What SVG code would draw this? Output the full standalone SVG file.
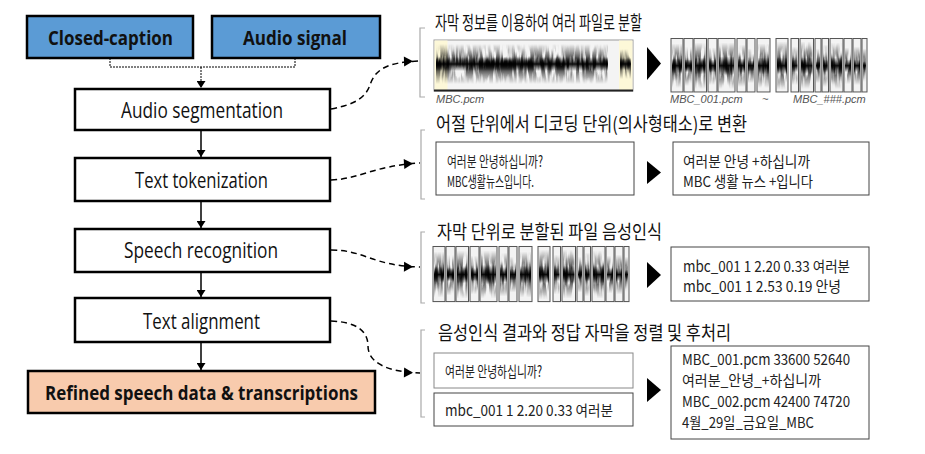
<svg xmlns="http://www.w3.org/2000/svg" xmlns:xlink="http://www.w3.org/1999/xlink" width="925" height="454" viewBox="0 0 925 454">
<style>
.node{stroke:#000;stroke-width:2.5}
.nt{font-family:"Open Sans","Noto Sans",sans-serif;font-size:22px;fill:#111}
.bt{font-family:"Open Sans","Noto Sans",sans-serif;font-size:20px;font-weight:bold;fill:#111}
.kt{font-family:"Noto Sans CJK KR",sans-serif;font-size:19px;fill:#111}
.kb{font-family:"Noto Sans CJK KR",sans-serif;font-size:15px;fill:#222}
.fn{font-family:"Liberation Sans",sans-serif;font-size:11px;font-style:italic;fill:#555}
.tb{fill:#fff;stroke:#444;stroke-width:1}
.br{fill:none;stroke:#aaa;stroke-width:1.2}
.dash{fill:none;stroke:#000;stroke-width:1.5;stroke-dasharray:6 4}
.flow{fill:none;stroke:#000;stroke-width:1.5}
.dot{fill:none;stroke:#000;stroke-width:1;stroke-dasharray:2 1}
.seg{fill:#f3f3f3;stroke:#555;stroke-width:1}
</style>
<defs>
<marker id="ah" markerWidth="8" markerHeight="9" refX="7" refY="4.5" orient="auto" markerUnits="userSpaceOnUse"><path d="M0,0 L7,4.5 L0,9 Z" fill="#000"/></marker>
<marker id="ahd" markerWidth="10" markerHeight="10" refX="16" refY="5" orient="auto" markerUnits="userSpaceOnUse" overflow="visible"><path d="M0,0 L9,5 L0,10 Z" fill="#000"/></marker>
<linearGradient id="env" x1="0" y1="0" x2="0" y2="1">
<stop offset="0" stop-color="#000" stop-opacity="0"/>
<stop offset="0.25" stop-color="#000" stop-opacity="0.45"/>
<stop offset="0.5" stop-color="#000" stop-opacity="1"/>
<stop offset="0.75" stop-color="#000" stop-opacity="0.45"/>
<stop offset="1" stop-color="#000" stop-opacity="0"/>
</linearGradient>
<linearGradient id="core" x1="0" y1="0" x2="0" y2="1">
<stop offset="0" stop-color="#000" stop-opacity="0"/>
<stop offset="0.5" stop-color="#000" stop-opacity="0.95"/>
<stop offset="1" stop-color="#000" stop-opacity="0"/>
</linearGradient>
<filter id="wv" filterUnits="userSpaceOnUse" x="-50" y="-50" width="1000" height="600">
<feTurbulence type="fractalNoise" baseFrequency="0.3 0.05" numOctaves="2" seed="7" result="t"/>
<feColorMatrix in="t" type="matrix" values="0 0 0 0 0  0 0 0 0 0  0 0 0 0 0  4 0 0 0 -1.3" result="a"/>
<feComposite in="SourceGraphic" in2="a" operator="in"/>
</filter>
<g id="segs">
<g>
<rect class="seg" x="0" y="0" width="12" height="54"/>
<rect class="seg" x="13" y="0" width="9" height="54"/>
<rect class="seg" x="23" y="0" width="12.5" height="54"/>
<rect class="seg" x="37" y="0" width="9" height="54"/>
<rect class="seg" x="47" y="0" width="17" height="54"/>
<rect class="seg" x="66" y="0" width="9" height="54"/>
<rect class="seg" x="76" y="0" width="8" height="54"/>
<rect class="seg" x="86" y="0" width="13" height="54"/>
<rect class="seg" x="105" y="0" width="12" height="54"/>
<rect class="seg" x="120" y="0" width="7.5" height="54"/>
<rect class="seg" x="129" y="0" width="13.5" height="54"/>
<rect class="seg" x="144" y="0" width="6" height="54"/>
<rect class="seg" x="151" y="0" width="6.5" height="54"/>
<rect class="seg" x="159" y="0" width="13" height="54"/>
<rect class="seg" x="173" y="0" width="8" height="54"/>
<rect class="seg" x="182" y="0" width="8" height="54"/>
<rect class="seg" x="191" y="0" width="5" height="54"/>
</g>
<g filter="url(#wv)" fill="url(#env)">
<rect x="1" y="5" width="10" height="45"/>
<rect x="14" y="8" width="7" height="40"/>
<rect x="24" y="4" width="10.5" height="47"/>
<rect x="38" y="9" width="7" height="38"/>
<rect x="48" y="4" width="15" height="47"/>
<rect x="67" y="6" width="7" height="43"/>
<rect x="77" y="10" width="6" height="35"/>
<rect x="87" y="5" width="11" height="45"/>
<rect x="106" y="3" width="10" height="49"/>
<rect x="121" y="8" width="5.5" height="39"/>
<rect x="130" y="3" width="11.5" height="48"/>
<rect x="145" y="10" width="4" height="35"/>
<rect x="152" y="6" width="4.5" height="43"/>
<rect x="160" y="4" width="11" height="47"/>
<rect x="174" y="9" width="6" height="37"/>
<rect x="183" y="8" width="6" height="39"/>
<rect x="192" y="10" width="3" height="35"/>
</g>
<g fill="url(#core)">
<rect x="1" y="20" width="10" height="15"/>
<rect x="14" y="21" width="7" height="13"/>
<rect x="24" y="19" width="10.5" height="17"/>
<rect x="38" y="21" width="7" height="13"/>
<rect x="48" y="18" width="15" height="19"/>
<rect x="67" y="20" width="7" height="15"/>
<rect x="77" y="22" width="6" height="11"/>
<rect x="87" y="19" width="11" height="17"/>
<rect x="106" y="19" width="10" height="17"/>
<rect x="121" y="21" width="5.5" height="13"/>
<rect x="130" y="19" width="11.5" height="17"/>
<rect x="145" y="23" width="4" height="9"/>
<rect x="152" y="21" width="4.5" height="13"/>
<rect x="160" y="19" width="11" height="17"/>
<rect x="174" y="21" width="6" height="13"/>
<rect x="183" y="21" width="6" height="13"/>
<rect x="192" y="23" width="3" height="9"/>
</g>
</g>
</defs>

<g id="connectors">
<path class="dot" d="M110,58 V67 H295 V58"/>
<path class="dot" d="M201,67 V88" marker-end="url(#ah)"/>
<path class="flow" d="M201,130 V157" marker-end="url(#ah)"/>
<path class="flow" d="M201,201 V228" marker-end="url(#ah)"/>
<path class="flow" d="M201,272 V297" marker-end="url(#ah)"/>
<path class="flow" d="M201,342 V370" marker-end="url(#ah)"/>
<path class="dash" d="M331,109 C358,104 366,96 370,85 C375,70 386,62 420,61" marker-end="url(#ahd)"/>
<path class="dash" d="M331,180 C360,179 372,166 420,163" marker-end="url(#ahd)"/>
<path class="dash" d="M331,250 C365,250 372,266 420,267" marker-end="url(#ahd)"/>
<path class="dash" d="M331,321 C358,322 368,332 368,346 C368,362 386,372 420,373" marker-end="url(#ahd)"/>
</g>

<g id="closed-caption">
<rect class="node" x="27" y="16" width="166" height="42" fill="#5b9bd5"/>
<text class="bt" x="48" y="45" textLength="125" lengthAdjust="spacingAndGlyphs">Closed-caption</text>
</g>
<g id="audio-signal">
<rect class="node" x="212" y="16" width="168" height="42" fill="#5b9bd5"/>
<text class="bt" x="243" y="45" textLength="104" lengthAdjust="spacingAndGlyphs">Audio signal</text>
</g>
<g id="audio-segmentation">
<rect class="node" x="75" y="89" width="255" height="41" fill="#fff"/>
<text class="nt" x="121" y="118" textLength="162" lengthAdjust="spacingAndGlyphs">Audio segmentation</text>
</g>
<g id="text-tokenization">
<rect class="node" x="75" y="158" width="255" height="43" fill="#fff"/>
<text class="nt" x="135" y="188" textLength="133" lengthAdjust="spacingAndGlyphs">Text tokenization</text>
</g>
<g id="speech-recognition">
<rect class="node" x="75" y="229" width="255" height="43" fill="#fff"/>
<text class="nt" x="124" y="258" textLength="154" lengthAdjust="spacingAndGlyphs">Speech recognition</text>
</g>
<g id="text-alignment">
<rect class="node" x="75" y="298" width="255" height="44" fill="#fff"/>
<text class="nt" x="143" y="329" textLength="117" lengthAdjust="spacingAndGlyphs">Text alignment</text>
</g>
<g id="refined">
<rect class="node" x="28" y="371" width="347" height="42" fill="#f8cbad"/>
<text class="bt" x="45" y="400" textLength="313" lengthAdjust="spacingAndGlyphs">Refined speech data &amp; transcriptions</text>
</g>

<g id="row-segmentation">
<path class="br" d="M425,28 H420 V97 H425"/>
<text class="kt" x="435" y="30" textLength="207" lengthAdjust="spacingAndGlyphs">자막 정보를 이용하여 여러 파일로 분할</text>
<rect x="434" y="40" width="199" height="51" fill="#f4f4f4" stroke="#999" stroke-width="1"/>
<rect x="434.5" y="40.5" width="13" height="50" fill="#fdf8d8"/>
<rect x="619" y="40.5" width="13.5" height="50" fill="#fdf8d8"/>
<line x1="434" y1="90.5" x2="633" y2="90.5" stroke="#222" stroke-width="2"/>
<g filter="url(#wv)" fill="url(#env)">
<rect x="436" y="44" width="172" height="40"/>
<rect x="620" y="49" width="11" height="30"/>
</g>
<g fill="url(#core)">
<rect x="436" y="57" width="172" height="14"/>
<rect x="620" y="58" width="11" height="12"/>
</g>
<text class="fn" x="436" y="103">MBC.pcm</text>
<path d="M647,47 L647,80 L661,63.5 Z" fill="#000"/>
<use xlink:href="#segs" href="#segs" transform="translate(671,38.5) scale(1,0.99)"/>
<text class="fn" x="670" y="103">MBC_001.pcm</text>
<text class="fn" x="762" y="103">~</text>
<text class="fn" x="793" y="103">MBC_###.pcm</text>
</g>

<g id="row-tokenization">
<path class="br" d="M425,130 H421 V199 H425"/>
<text class="kt" x="436" y="131" textLength="311" lengthAdjust="spacingAndGlyphs">어절 단위에서 디코딩 단위(의사형태소)로 변환</text>
<rect class="tb" x="436" y="142" width="198" height="53"/>
<text class="kb" x="447" y="167" textLength="96" lengthAdjust="spacingAndGlyphs">여러분 안녕하십니까?</text>
<text class="kb" x="447" y="187" textLength="87" lengthAdjust="spacingAndGlyphs">MBC생활뉴스입니다.</text>
<path d="M647,161 L647,184 L661,172.5 Z" fill="#000"/>
<rect class="tb" x="673" y="142" width="196" height="53"/>
<text class="kb" x="683" y="167" textLength="127" lengthAdjust="spacingAndGlyphs">여러분 안녕 +하십니까</text>
<text class="kb" x="683" y="187" textLength="130" lengthAdjust="spacingAndGlyphs">MBC 생활 뉴스 +입니다</text>
</g>

<g id="row-recognition">
<path class="br" d="M425,232 H421 V303 H425"/>
<text class="kt" x="437" y="239" textLength="225" lengthAdjust="spacingAndGlyphs">자막 단위로 분할된 파일 음성인식</text>
<use xlink:href="#segs" href="#segs" transform="translate(433,246.5) scale(1,1.02)"/>
<path d="M647,262 L647,288 L661,275 Z" fill="#000"/>
<rect class="tb" x="671" y="247" width="198" height="54"/>
<text class="kb" x="683" y="272" textLength="167" lengthAdjust="spacingAndGlyphs">mbc_001 1 2.20 0.33 여러분</text>
<text class="kb" x="683" y="292" textLength="158" lengthAdjust="spacingAndGlyphs">mbc_001 1 2.53 0.19 안녕</text>
</g>

<g id="row-alignment">
<path class="br" d="M425,330 H421 V417 H425"/>
<text class="kt" x="438" y="340" textLength="293" lengthAdjust="spacingAndGlyphs">음성인식 결과와 정답 자막을 정렬 및 후처리</text>
<rect class="tb" x="434" y="353" width="199" height="35" style="stroke:#888"/>
<text class="kb" x="445" y="377" textLength="97" lengthAdjust="spacingAndGlyphs">여러분 안녕하십니까?</text>
<rect class="tb" x="434" y="393" width="199" height="33"/>
<text class="kb" x="445" y="416" textLength="168" lengthAdjust="spacingAndGlyphs">mbc_001 1 2.20 0.33 여러분</text>
<path d="M647,378 L647,402 L661,390 Z" fill="#000"/>
<rect class="tb" x="671" y="346" width="198" height="93"/>
<text class="kb" x="682" y="365" textLength="168" lengthAdjust="spacingAndGlyphs">MBC_001.pcm 33600 52640</text>
<text class="kb" x="682" y="386" textLength="139" lengthAdjust="spacingAndGlyphs">여러분_안녕_+하십니까</text>
<text class="kb" x="682" y="407" textLength="168" lengthAdjust="spacingAndGlyphs">MBC_002.pcm 42400 74720</text>
<text class="kb" x="682" y="428" textLength="132" lengthAdjust="spacingAndGlyphs">4월_29일_금요일_MBC</text>
</g>
</svg>
